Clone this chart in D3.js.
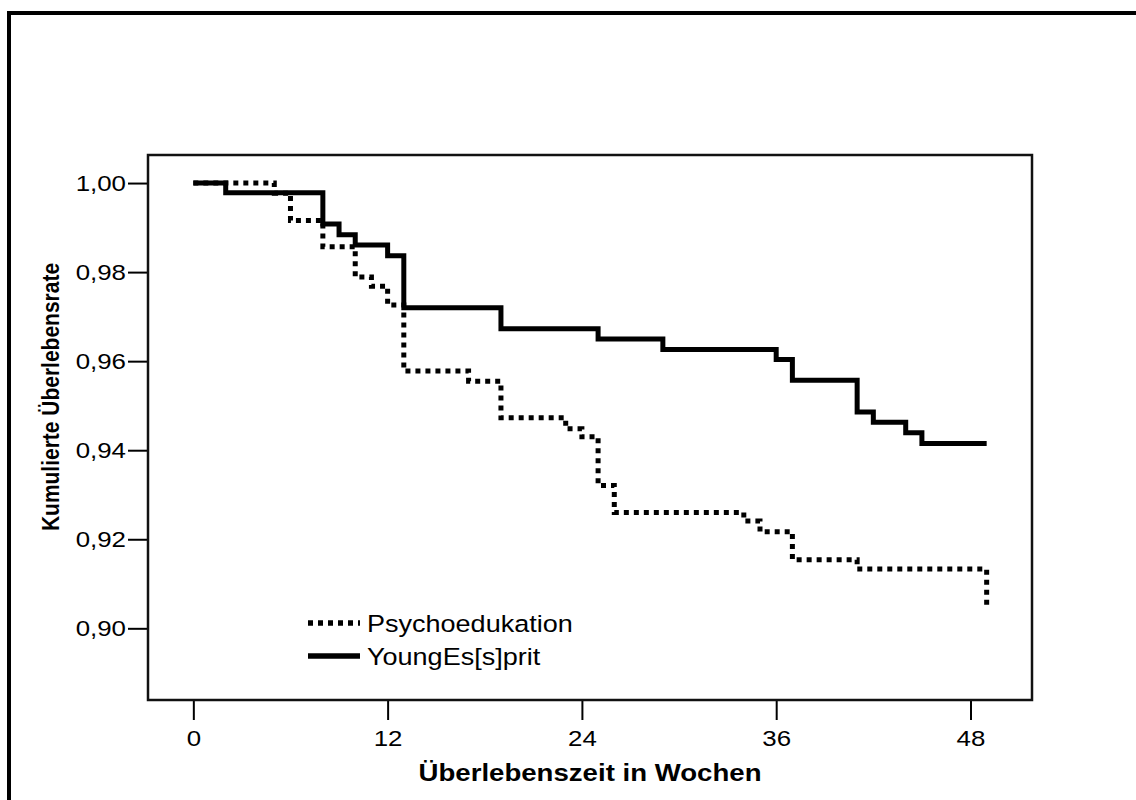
<!DOCTYPE html>
<html>
<head>
<meta charset="utf-8">
<script src="https://cdn.jsdelivr.net/npm/d3@7"></script>
<style>
  html, body { margin: 0; padding: 0; background: #fff; }
  svg { display: block; font-family: "Liberation Sans", Arial, sans-serif; }
</style>
</head>
<body>
<div id="chart"></div>
<script>
// Kaplan-Meier Kurven, Werte
const groups = ['Psychoedukation', 'YoungEs[s]prit'];
const psyTimes = [0, 5, 6, 8, 10, 11, 12, 13, 17, 19, 23, 24, 25, 26, 34, 35, 37, 41, 49];
const psySurv = [1.0, 0.9977, 0.9916, 0.9857, 0.9789, 0.9768, 0.9726, 0.9578, 0.9555, 0.9473,
  0.9448, 0.9430, 0.9321, 0.9260, 0.9241, 0.9217, 0.9154, 0.9133, 0.9050];
const yesTimes = [0, 2, 8, 9, 10, 12, 13, 19, 25, 29, 36, 37, 41, 42, 44, 45, 49];
const yesSurv = [1.0, 0.9978, 0.9908, 0.9884, 0.9861, 0.9837, 0.9720, 0.9673, 0.9650, 0.9626,
  0.9604, 0.9557, 0.9486, 0.9463, 0.9439, 0.9415, 0.9415];
const xTicks = [0, 12, 24, 36, 48];
const yTicks = [0.90, 0.92, 0.94, 0.96, 0.98, 1.00];

const W = 1136, H = 800;
const box = { left: 148, top: 155, right: 1032, bottom: 700 };
const sx = 1.15; // Text ist im Original horizontal gestreckt

const svg = d3.select('#chart').append('svg')
  .attr('width', W).attr('height', H);

// äußerer Rahmen
svg.append('path')
  .attr('d', `M9,${H + 10}V13H${W + 10}`)
  .attr('fill', 'none').attr('stroke', '#000').attr('stroke-width', 4);

const x = d3.scaleLinear().domain([-2.8, 51.8]).range([box.left, box.right]);
const y = d3.scaleLinear().domain([0.8839, 1.0063]).range([box.bottom, box.top]);

const de = d3.formatLocale({ decimal: ',', thousands: '.', grouping: [3], currency: ['', '€'] });
const fmt = de.format('.2f');

// Achsen
const yAxis = svg.append('g')
  .attr('transform', `translate(${box.left},0)`)
  .call(d3.axisLeft(y).tickValues(yTicks).tickFormat(fmt).tickSize(20).tickPadding(2));
const xAxis = svg.append('g')
  .attr('transform', `translate(0,${box.bottom})`)
  .call(d3.axisBottom(x).tickValues(xTicks).tickSize(20).tickPadding(10));

[yAxis, xAxis].forEach(a => {
  a.select('.domain').remove();
  a.selectAll('.tick line').attr('stroke', '#000').attr('stroke-width', 2);
  a.selectAll('.tick text')
    .attr('fill', '#000')
    .attr('font-size', 22.5)
    .attr('font-family', '"Liberation Sans", Arial, sans-serif')
    .attr('transform', function () {
      const tx = +this.getAttribute('x') || 0, ty = +this.getAttribute('y') || 0;
      return `translate(${tx},${ty}) scale(${sx},1)`;
    })
    .attr('x', 0).attr('y', 0);
});

// Plotrahmen
svg.append('rect')
  .attr('x', box.left).attr('y', box.top)
  .attr('width', box.right - box.left).attr('height', box.bottom - box.top)
  .attr('fill', 'none').attr('stroke', '#111').attr('stroke-width', 2.5);

// Kurven
const line = d3.line()
  .x(d => x(d[0])).y(d => y(d[1]))
  .curve(d3.curveStepAfter);

const series = [
  { name: groups[0], pts: d3.zip(psyTimes, psySurv), dash: '5,5' },
  { name: groups[1], pts: d3.zip(yesTimes, yesSurv), dash: null }
];

svg.append('g').selectAll('path')
  .data(series)
  .join('path')
  .attr('d', d => line(d.pts))
  .attr('fill', 'none')
  .attr('stroke', '#000')
  .attr('stroke-width', 5)
  .attr('stroke-linecap', 'butt')
  .attr('stroke-linejoin', 'miter')
  .attr('stroke-dasharray', d => d.dash);

// Legende
const leg = svg.append('g').selectAll('g')
  .data(series)
  .join('g')
  .attr('transform', (d, i) => `translate(308,${623 + i * 33})`);
leg.append('line')
  .attr('x1', 0).attr('x2', 52).attr('y1', 0).attr('y2', 0)
  .attr('stroke', '#000').attr('stroke-width', 5.5)
  .attr('stroke-dasharray', d => d.dash);
leg.append('text')
  .attr('transform', `translate(59,9) scale(${sx},1)`)
  .attr('font-size', 23.5)
  .attr('fill', '#000')
  .text(d => d.name);

// Achsentitel
svg.append('text')
  .attr('transform', `translate(${(box.left + box.right) / 2},781) scale(${sx},1)`)
  .attr('text-anchor', 'middle')
  .attr('font-size', 24).attr('font-weight', 'bold')
  .text('Überlebenszeit in Wochen');

svg.append('text')
  .attr('transform', `translate(59,397) scale(${sx},1) rotate(-90)`)
  .attr('text-anchor', 'middle')
  .attr('font-size', 21).attr('font-weight', 'bold')
  .text('Kumulierte Überlebensrate');
</script>
</body>
</html>
